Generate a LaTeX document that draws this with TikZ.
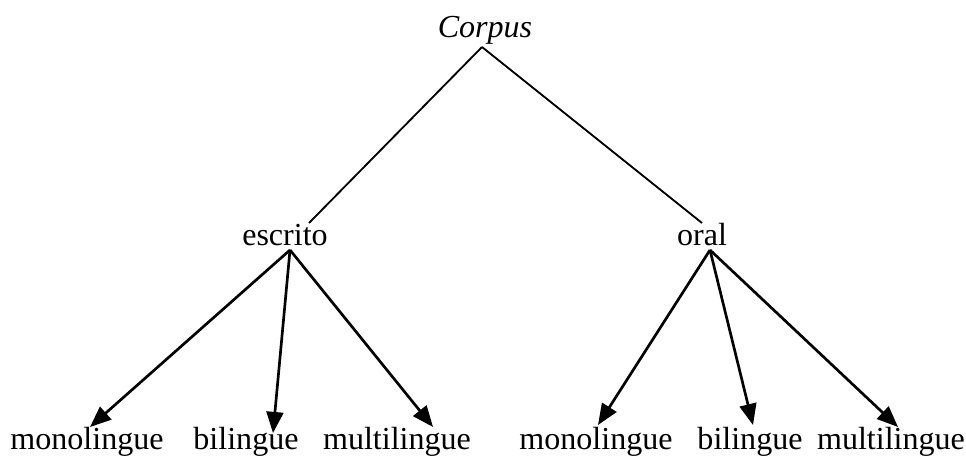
\documentclass[tikz,border=0pt]{standalone}
\usepackage{fontspec}
\setmainfont{Liberation Serif}
\usetikzlibrary{arrows.meta,calc}

\begin{document}
\begin{tikzpicture}[x=0.025cm, y=-0.025cm, every node/.style={anchor=base, inner sep=0pt, font=\fontsize{22.8}{27}\selectfont}]
        \useasboundingbox (0,0) rectangle (966,455);
        % Define the nodes
        \node (corpus) at (485,37) {\textit{Corpus}};
        \node (escrito) at (285,245) {escrito};
        \node (oral) at (702,245) {oral};
        \node (mono1) at (87,449) {monolingue};
        \node (bi1) at (246,449) {bilingue};
        \node (multi1) at (397,449) {multilingue};
        \node (mono2) at (596,449) {monolingue};
        \node (bi2) at (750,449) {bilingue};
        \node (multi2) at (891,449) {multilingue};

        \begin{scope}[line width=1.3pt]
        \draw ($(corpus.base)+(-3,10)$) -- ($(escrito.base)+(24,-22)$);
        \draw ($(corpus.base)+(-3,10)$) -- ($(oral.base)+(0,-22)$);
        \end{scope}

        \begin{scope}[line width=1.9pt, -{Triangle[length=15pt,width=12pt]}]
        \draw ($(escrito.base)+(5,5)$) -- ($(mono1.base)+(3,-22)$);
        \draw ($(escrito.base)+(5,5)$) -- ($(bi1.base)+(27,-16)$);
        \draw ($(escrito.base)+(5,5)$) -- ($(multi1.base)+(36,-22)$);
        \draw ($(oral.base)+(8,5)$) -- ($(mono2.base)+(2,-24)$);
        \draw ($(oral.base)+(8,5)$) -- ($(bi2.base)+(3,-24)$);
        \draw ($(oral.base)+(8,5)$) -- ($(multi2.base)+(7,-22)$);
        \end{scope}
    \end{tikzpicture}
\end{document}
